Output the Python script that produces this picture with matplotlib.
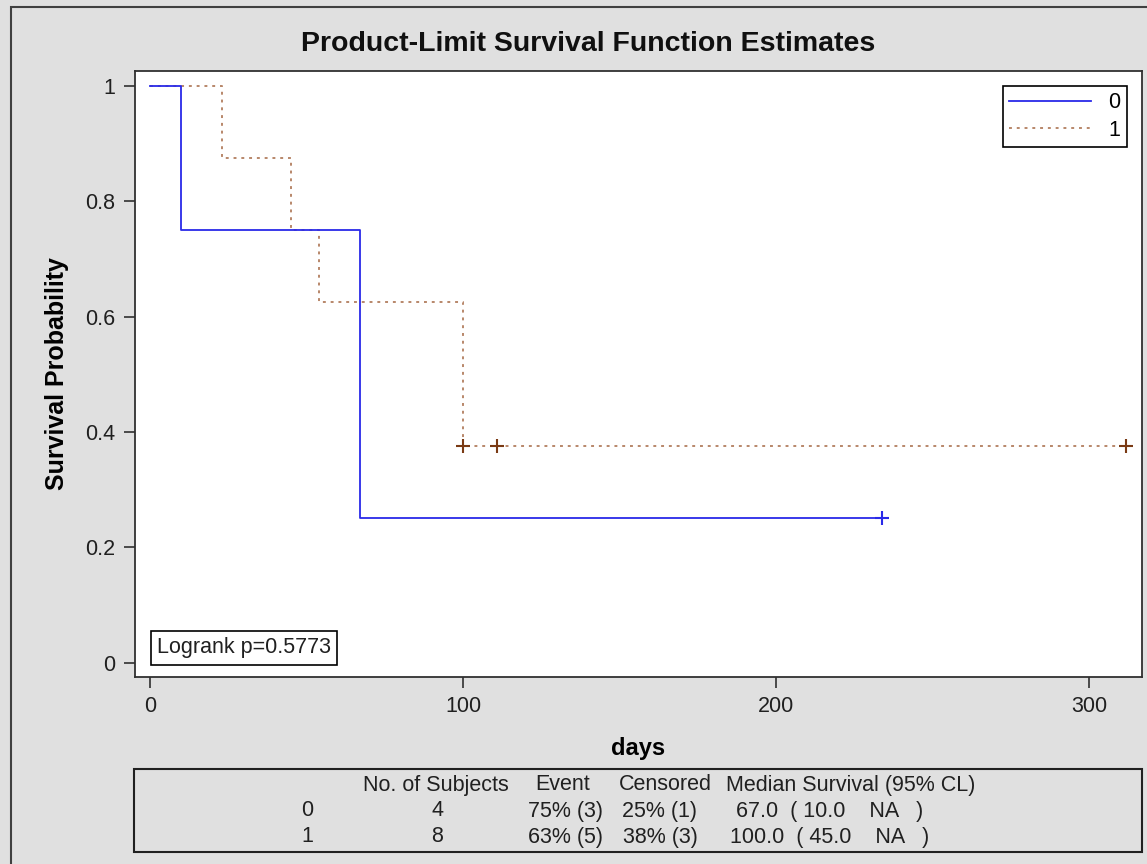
import numpy as np
import matplotlib
matplotlib.use("Agg")
import matplotlib.pyplot as plt
from matplotlib.patches import Rectangle
from matplotlib.lines import Line2D

# ---- data ----
groups = ["0", "1"]
times_0 = [10, 67, 67, 234]
status_0 = [1, 1, 1, 0]
times_1 = [23, 45, 54, 100, 100, 100, 111, 312]
status_1 = [1, 1, 1, 1, 1, 0, 0, 0]
x_ticks = [0, 100, 200, 300]
y_ticks = [0, 0.2, 0.4, 0.6, 0.8, 1.0]
y_ticklabels = ["0", "0.2", "0.4", "0.6", "0.8", "1"]
title = "Product-Limit Survival Function Estimates"
logrank_text = "Logrank p=0.5773"
table_header = ["No. of Subjects", "Event", "Censored", "Median Survival (95% CL)"]
table_group = ["0", "1"]
table_n = ["4", "8"]
table_event = ["75% (3)", "63% (5)"]
table_cens = ["25% (1)", "38% (3)"]
table_median = ["67.0  ( 10.0    NA   )", "100.0  ( 45.0    NA   )"]

plt.rcParams['font.family'] = ['Liberation Sans', 'DejaVu Sans']

W, H = 1147, 864
fig = plt.figure(figsize=(W / 100, H / 100), dpi=100)
fig.patch.set_facecolor('#e0e0e0')

def fx(x):
    return x / W

def fy(y):
    return 1 - y / H

# outer border
fig.patches.append(Rectangle((fx(11), fy(H + 10)), fx(W + 20), (H + 3) / H,
                             transform=fig.transFigure, fill=False,
                             edgecolor='#404040', lw=1.5))

ax_l, ax_r, ax_t, ax_b = 135, 1142, 71, 677
ax = fig.add_axes([fx(ax_l), fy(ax_b), fx(ax_r - ax_l), (ax_b - ax_t) / H])
ax.set_facecolor('white')


def km(times, status):
    t = np.array(times, float)
    s = np.array(status)
    xs = [0.0]
    ys = [1.0]
    surv = 1.0
    cens_x, cens_y = [], []
    for ut in np.unique(t):
        at_risk = np.sum(t >= ut)
        d = np.sum((t == ut) & (s == 1))
        c = np.sum((t == ut) & (s == 0))
        if d > 0:
            surv *= (at_risk - d) / at_risk
            xs.append(ut)
            ys.append(surv)
        if c > 0:
            cens_x.append(ut)
            cens_y.append(surv)
    xs.append(t.max())
    ys.append(surv)
    return xs, ys, cens_x, cens_y

blue = '#2a2ae8'
tan = '#b8876a'
brown = '#7a3a14'
dots = (0, (1.5, 2.5))

x0, y0, cx0, cy0 = km(times_0, status_0)
x1, y1, cx1, cy1 = km(times_1, status_1)

ax.step(x0, y0, where='post', color=blue, lw=1.3, zorder=3)
ax.step(x1, y1, where='post', color=tan, lw=1.4, linestyle=dots, zorder=2)
ax.plot(cx0, cy0, linestyle='none', marker='+', ms=10, mew=1.5, color=blue, zorder=4)
ax.plot(cx1, cy1, linestyle='none', marker='+', ms=10, mew=1.5, color=brown, zorder=4)

ax.set_xlim(-4.8, 317)
ax.set_ylim(-0.025, 1.026)
ax.set_xticks(x_ticks)
ax.set_yticks(y_ticks)
ax.set_yticklabels(y_ticklabels)
ax.tick_params(direction='out', length=8, width=1.2, color='#303030',
               labelsize=15.5, labelcolor='#202020', pad=6)
for sp in ax.spines.values():
    sp.set_color('#303030')
    sp.set_linewidth(1.3)

ax.set_xlabel('days', fontsize=17, fontweight='bold', labelpad=14)
ax.set_ylabel('Survival Probability', fontsize=18, fontweight='bold', labelpad=12)

# legend
handles = [Line2D([], [], color=blue, lw=1.3),
           Line2D([], [], color=tan, lw=1.4, linestyle=dots)]
leg = ax.legend(handles, groups, loc='upper right',
                bbox_to_anchor=(fx(1127), fy(86)), bbox_transform=fig.transFigure,
                fontsize=15.5, frameon=True, fancybox=False, handlelength=3.8,
                borderpad=0.3, labelspacing=0.3, handletextpad=0.8,
                borderaxespad=0)
leg.get_frame().set_edgecolor('black')
leg.get_frame().set_linewidth(1.2)
leg.get_frame().set_facecolor('white')
leg.get_frame().set_alpha(1)

# logrank box
fig.text(fx(157), fy(648), logrank_text, fontsize=15.5, ha='left', va='center',
         color='#202020',
         bbox=dict(boxstyle='square,pad=0.28', facecolor='white', edgecolor='black', lw=1.2))

# title
fig.text(fx(588), fy(44), title, fontsize=20.5, fontweight='bold', ha='center', va='center',
         color='#101010')

# summary table box
fig.patches.append(Rectangle((fx(134), fy(852)), fx(1142 - 134), (852 - 769) / H,
                             transform=fig.transFigure, fill=False,
                             edgecolor='#202020', lw=1.5))
fs = 15.5
tc = '#202020'
hy, r0, r1 = 785, 811, 837
fig.text(fx(436), fy(hy), table_header[0], fontsize=fs, ha='center', va='center', color=tc)
fig.text(fx(563), fy(hy), table_header[1], fontsize=fs, ha='center', va='center', color=tc)
fig.text(fx(665), fy(hy), table_header[2], fontsize=fs, ha='center', va='center', color=tc)
fig.text(fx(726), fy(hy), table_header[3], fontsize=fs, ha='left', va='center', color=tc)
for i, ry in enumerate([r0, r1]):
    fig.text(fx(307), fy(ry), table_group[i], fontsize=fs, ha='center', va='center', color=tc)
    fig.text(fx(437), fy(ry), table_n[i], fontsize=fs, ha='center', va='center', color=tc)
    fig.text(fx(566), fy(ry), table_event[i], fontsize=fs, ha='center', va='center', color=tc)
    fig.text(fx(660), fy(ry), table_cens[i], fontsize=fs, ha='center', va='center', color=tc)
    fig.text(fx(830), fy(ry), table_median[i], fontsize=fs, ha='center', va='center', color=tc)

fig.savefig('out.png', dpi=100, facecolor=fig.get_facecolor())
